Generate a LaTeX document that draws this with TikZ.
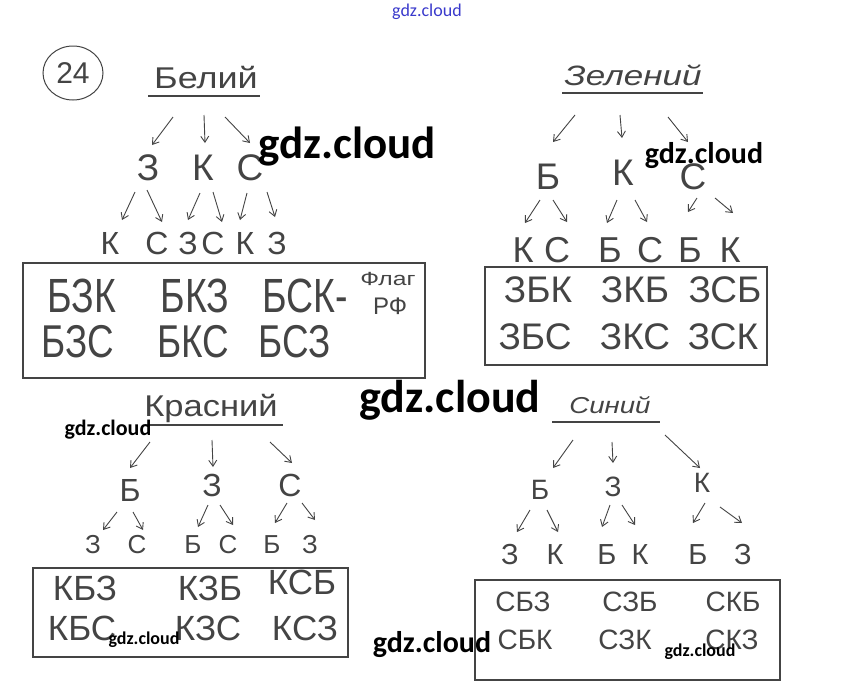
\documentclass[tikz,border=0pt]{standalone}
\usepackage{fontspec}
\usepackage{graphicx}
\usetikzlibrary{arrows.meta,shapes.geometric}
\newfontfamily\hand{Liberation Sans}
\newfontfamily\wmfont{Carlito}
\definecolor{inkc}{HTML}{444444}
\definecolor{wmblue}{HTML}{3A3ACC}
\tikzset{
  ink/.style={text=inkc, inner sep=0pt},
  lv/.style={ink, font=\fontsize{#1}{#1}\selectfont\hand},
  ttl/.style={ink, font=\fontsize{#1}{#1}\selectfont\hand},
  arr/.style={draw=inkc, line width=0.9pt, -{Straight Barb[length=6pt,width=8pt]}},
  boxst/.style={draw=inkc, line width=1.2pt, inner sep=0pt},
  uline/.style={draw=inkc, line width=1.1pt},
  wm/.style={font=\fontsize{#1}{#1}\selectfont\wmfont\bfseries, text=black, inner sep=0pt},
}
\newcommand\conn[4]{\draw[arr] ([shift={(#2)}]#1.center) -- ([shift={(#4)}]#3.center);}
\newcommand\sx[2]{\scalebox{#1}[1]{#2}}
\begin{document}
\begin{tikzpicture}[x=1pt,y=-1pt]
\fill[white] (0,0) rectangle (852,694);
\useasboundingbox (0,0) rectangle (852,694);

% number
\node[draw=inkc, ellipse, line width=1pt, minimum width=60pt, minimum height=54pt, lv=30] (n24) at (73,73) {24};

% ===== Белий =====
\node[ttl=30] (wt) at (206,78) {\sx{1.2}{Белий}};
\draw[uline] (148,96) -- (260,96);
\node[lv=37] (w1) at (148,168) {З};
\node[lv=37] (w2) at (203,168) {К};
\node[lv=37] (w3) at (250,168) {С};
\conn{wt}{-33,39}{w1}{4,-23}
\conn{wt}{-2,37}{w2}{2,-25}
\conn{wt}{19,39}{w3}{0,-25}
\node[lv=32] (w11) at (110,243) {К};
\node[lv=32] (w12) at (157,243) {С};
\node[lv=32] (w21) at (188,243) {З};
\node[lv=32] (w22) at (213,243) {С};
\node[lv=32] (w31) at (245,243) {К};
\node[lv=32] (w32) at (277,243) {З};
\conn{w1}{-13,24}{w11}{12,-23}
\conn{w1}{-1,22}{w12}{5,-21}
\conn{w2}{-3,25}{w21}{0,-23}
\conn{w2}{10,24}{w22}{9,-21}
\conn{w3}{-3,25}{w31}{-5,-23}
\conn{w3}{17,24}{w32}{-2,-26}
\node[boxst, minimum width=402pt, minimum height=115pt] (wb) at (224,320.5) {};
\node[lv=48] (wr1) at (82,296) {\sx{0.78}{БЗК}};
\node[lv=48] (wr2) at (195,296) {\sx{0.78}{БКЗ}};
\node[lv=48] (wr3) at (305,296) {\sx{0.78}{БСК-}};
\node[lv=19] (wr4) at (388,279) {\sx{1.3}{Флаг}};
\node[lv=24] (wr5) at (390,306) {РФ};
\node[lv=46] (wr6) at (78,342) {\sx{0.8}{БЗС}};
\node[lv=46] (wr7) at (193,342) {\sx{0.8}{БКС}};
\node[lv=46] (wr8) at (295,342) {\sx{0.8}{БСЗ}};

% ===== Зелений =====
\node[ttl=28] (gt) at (633,75) {\sx{1.25}{\itshape Зелений}};
\draw[uline] (562,93) -- (703,93);
\node[lv=37] (g1) at (548,177) {Б};
\node[lv=37] (g2) at (623,173) {К};
\node[lv=37] (g3) at (693,177) {С};
\conn{gt}{-58,40}{g1}{5,-35}
\conn{gt}{-13,40}{g2}{-1,-35}
\conn{gt}{35,42}{g3}{-5,-35}
\node[lv=36] (g11) at (523,250) {К};
\node[lv=36] (g12) at (557,250) {С};
\node[lv=36] (g21) at (610,250) {Б};
\node[lv=36] (g22) at (650,250) {С};
\node[lv=36] (g31) at (690,250) {Б};
\node[lv=36] (g32) at (730,250) {К};
\conn{g1}{-8,23}{g11}{2,-27}
\conn{g1}{5,23}{g12}{10,-28}
\conn{g2}{-6,27}{g21}{-3,-27}
\conn{g2}{12,27}{g22}{-3,-28}
\conn{g3}{4,21}{g31}{-2,-38}
\conn{g3}{22,21}{g32}{3,-37}
\node[boxst, minimum width=282pt, minimum height=98pt] (gb) at (626,316) {};
\node[lv=37] (gr1) at (538,290) {ЗБК};
\node[lv=37] (gr2) at (635,290) {ЗКБ};
\node[lv=37] (gr3) at (725,290) {ЗСБ};
\node[lv=37] (gr4) at (535,337) {ЗБС};
\node[lv=37] (gr5) at (635,337) {ЗКС};
\node[lv=37] (gr6) at (723,337) {ЗСК};

% ===== Красний =====
\node[ttl=30] (kt) at (211,408) {\sx{1.15}{Красний}};
\draw[uline] (145,425) -- (283,425);
\node[lv=32] (k1) at (130,490) {Б};
\node[lv=32] (k2) at (212,485) {З};
\node[lv=32] (k3) at (290,485) {С};
\conn{kt}{-61,34}{k1}{0,-22}
\conn{kt}{1,32}{k2}{1,-18}
\conn{kt}{59,34}{k3}{2,-22}
\node[lv=26] (k11) at (93,545) {З};
\node[lv=26] (k12) at (137,545) {С};
\node[lv=26] (k21) at (193,545) {Б};
\node[lv=26] (k22) at (228,545) {С};
\node[lv=26] (k31) at (272,545) {Б};
\node[lv=26] (k32) at (310,545) {З};
\conn{k1}{-13,22}{k11}{10,-15}
\conn{k1}{3,22}{k12}{6,-15}
\conn{k2}{-4,20}{k21}{5,-18}
\conn{k2}{8,20}{k22}{5,-20}
\conn{k3}{-3,18}{k31}{3,-22}
\conn{k3}{12,18}{k32}{5,-25}
\node[boxst, minimum width=315pt, minimum height=89pt] (kb) at (190.5,612.5) {};
\node[lv=35] (kr1) at (85,588) {КБЗ};
\node[lv=35] (kr2) at (210,588) {КЗБ};
\node[lv=35] (kr3) at (302,582) {КСБ};
\node[lv=35] (kr4) at (82,628) {КБС};
\node[lv=35] (kr5) at (208,628) {КЗС};
\node[lv=35] (kr6) at (305,628) {КСЗ};

% ===== Синий =====
\node[ttl=23] (st) at (610,405) {\sx{1.2}{\itshape Синий}};
\draw[uline] (552,422) -- (660,422);
\node[lv=28] (s1) at (540,490) {Б};
\node[lv=28] (s2) at (613,487) {З};
\node[lv=28] (s3) at (702,483) {К};
\conn{st}{-37,35}{s1}{13,-22}
\conn{st}{2,37}{s2}{0,-24}
\conn{st}{55,30}{s3}{-2,-15}
\node[lv=29] (s11) at (510,555) {З};
\node[lv=29] (s12) at (555,555) {К};
\node[lv=29] (s21) at (607,555) {Б};
\node[lv=29] (s22) at (640,555) {К};
\node[lv=29] (s31) at (698,555) {Б};
\node[lv=29] (s32) at (743,555) {З};
\conn{s1}{-10,20}{s11}{7,-23}
\conn{s1}{7,20}{s12}{3,-23}
\conn{s2}{-3,18}{s21}{-5,-28}
\conn{s2}{9,18}{s22}{-5,-30}
\conn{s3}{3,20}{s31}{-5,-32}
\conn{s3}{18,24}{s32}{-1,-32}
\node[boxst, minimum width=305pt, minimum height=100pt] (sb) at (627.5,630) {};
\node[lv=28] (sr1) at (523,602) {СБЗ};
\node[lv=28] (sr2) at (630,602) {СЗБ};
\node[lv=28] (sr3) at (733,602) {СКБ};
\node[lv=28] (sr4) at (525,640) {СБК};
\node[lv=28] (sr5) at (625,640) {СЗК};
\node[lv=28] (sr6) at (732,640) {СКЗ};

% ===== watermarks =====
\node[font=\fontsize{18}{18}\selectfont\wmfont, text=wmblue, inner sep=0pt] (m0) at (427,12) {gdz.cloud};
\node[wm=45] (m1) at (347,147) {gdz.cloud};
\node[wm=30] (m2) at (704,156) {gdz.cloud};
\node[wm=46] (m3) at (450,400) {gdz.cloud};
\node[wm=22] (m4) at (108,430) {gdz.cloud};
\node[wm=18] (m5) at (144,640) {gdz.cloud};
\node[wm=30] (m6) at (432,645) {gdz.cloud};
\node[wm=18] (m7) at (700,652) {gdz.cloud};
\end{tikzpicture}
\end{document}
